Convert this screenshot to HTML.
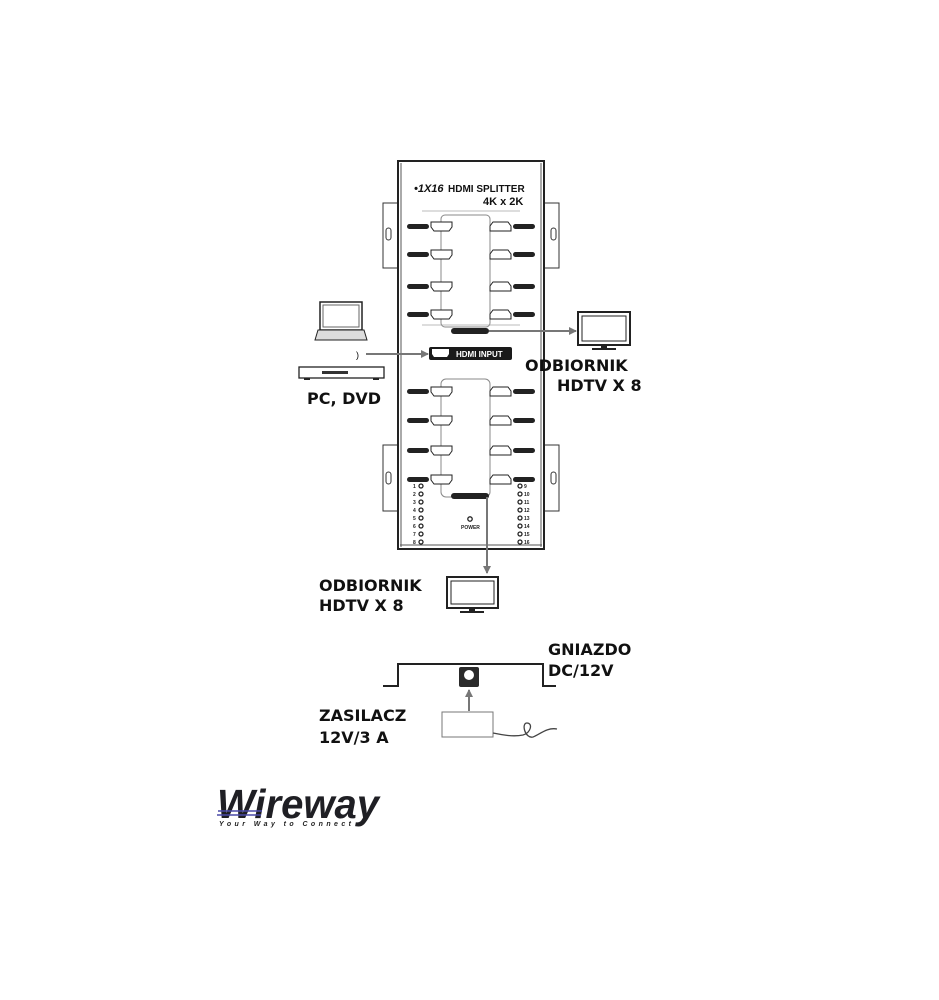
<!DOCTYPE html>
<html><head><meta charset="utf-8"><style>
html,body{margin:0;padding:0;background:#fff}
svg{display:block}
.t{font-family:"DejaVu Sans","Liberation Sans",sans-serif;font-weight:bold;font-size:16px;fill:#111}
.s{font-family:"Liberation Sans",sans-serif;font-weight:bold;fill:#111}
</style></head><body>
<svg width="939" height="1000" viewBox="0 0 939 1000" xmlns="http://www.w3.org/2000/svg">
<defs>
<marker id="ah" markerWidth="8" markerHeight="8" refX="7" refY="4" orient="auto" markerUnits="userSpaceOnUse"><path d="M0,0 L8,4 L0,8 z" fill="#777"/></marker>
<g id="pl"><path d="M0,0 h21 v5 l-3,4 h-15 l-3,-4 z" fill="#fff" stroke="#222" stroke-width="1"/></g>
<g id="pr"><path d="M0,0 h21 v5 l-3,4 h-15 l-3,-4 z" fill="#fff" stroke="#222" stroke-width="1" transform="rotate(180 10.5 4.5)"/></g>
</defs>
<!-- ears -->
<g fill="#fff" stroke="#333" stroke-width="1">
<rect x="383" y="203" width="15" height="65"/><rect x="544" y="203" width="15" height="65"/>
<rect x="383" y="445" width="15" height="66"/><rect x="544" y="445" width="15" height="66"/>
<rect x="386" y="228" width="5" height="12" rx="2.5"/><rect x="551" y="228" width="5" height="12" rx="2.5"/>
<rect x="386" y="472" width="5" height="12" rx="2.5"/><rect x="551" y="472" width="5" height="12" rx="2.5"/>
</g>
<!-- body -->
<rect x="398" y="161" width="146" height="388" fill="#fff" stroke="#222" stroke-width="2"/>
<line x1="401" y1="163" x2="401" y2="547" stroke="#555"/>
<line x1="541" y1="163" x2="541" y2="547" stroke="#555"/>
<line x1="400" y1="545" x2="542" y2="545" stroke="#555"/>
<text x="414" y="192" class="s" font-size="11" font-style="italic">•1X16</text>
<text x="448" y="192" class="s" font-size="10">HDMI SPLITTER</text>
<text x="483" y="205" class="s" font-size="11">4K x 2K</text>
<line x1="422" y1="211" x2="520" y2="211" stroke="#bbb"/>
<line x1="422" y1="325" x2="520" y2="325" stroke="#bbb"/>
<!-- top group -->
<rect x="441" y="215" width="49" height="112" rx="4" fill="none" stroke="#888"/>
<rect x="441" y="379" width="49" height="118" rx="5" fill="none" stroke="#888"/>
<g fill="#222">
<rect x="407" y="224" width="22" height="5" rx="2.5"/><rect x="407" y="252" width="22" height="5" rx="2.5"/>
<rect x="407" y="284" width="22" height="5" rx="2.5"/><rect x="407" y="312" width="22" height="5" rx="2.5"/>
<rect x="513" y="224" width="22" height="5" rx="2.5"/><rect x="513" y="252" width="22" height="5" rx="2.5"/>
<rect x="513" y="284" width="22" height="5" rx="2.5"/><rect x="513" y="312" width="22" height="5" rx="2.5"/>
<rect x="407" y="389" width="22" height="5" rx="2.5"/><rect x="407" y="418" width="22" height="5" rx="2.5"/>
<rect x="407" y="448" width="22" height="5" rx="2.5"/><rect x="407" y="477" width="22" height="5" rx="2.5"/>
<rect x="513" y="389" width="22" height="5" rx="2.5"/><rect x="513" y="418" width="22" height="5" rx="2.5"/>
<rect x="513" y="448" width="22" height="5" rx="2.5"/><rect x="513" y="477" width="22" height="5" rx="2.5"/>
<rect x="451" y="328" width="38" height="6" rx="3"/><rect x="451" y="493" width="38" height="6" rx="3"/>
</g>
<use href="#pl" x="431" y="222"/><use href="#pl" x="431" y="250"/><use href="#pl" x="431" y="282"/><use href="#pl" x="431" y="310"/>
<use href="#pr" x="490" y="222"/><use href="#pr" x="490" y="250"/><use href="#pr" x="490" y="282"/><use href="#pr" x="490" y="310"/>
<use href="#pl" x="431" y="387"/><use href="#pl" x="431" y="416"/><use href="#pl" x="431" y="446"/><use href="#pl" x="431" y="475"/>
<use href="#pr" x="490" y="387"/><use href="#pr" x="490" y="416"/><use href="#pr" x="490" y="446"/><use href="#pr" x="490" y="475"/>
<!-- HDMI input -->
<rect x="429" y="347" width="83" height="13" rx="2" fill="#1a1a1a"/>
<path d="M432,349 h17 v5 l-2,3 h-13 l-2,-3 z" fill="#fff"/>
<text x="456" y="357" font-family="Liberation Sans,sans-serif" font-weight="bold" font-size="8" fill="#fff">HDMI INPUT</text>
<!-- LEDs -->
<g font-family="Liberation Sans,sans-serif" font-size="5" font-weight="bold" fill="#222">
<text x="413" y="488">1</text><text x="413" y="496">2</text><text x="413" y="504">3</text><text x="413" y="512">4</text><text x="413" y="520">5</text><text x="413" y="528">6</text><text x="413" y="536">7</text><text x="413" y="544">8</text>
<text x="524" y="488">9</text><text x="524" y="496">10</text><text x="524" y="504">11</text><text x="524" y="512">12</text><text x="524" y="520">13</text><text x="524" y="528">14</text><text x="524" y="536">15</text><text x="524" y="544">16</text>
<text x="461" y="529">POWER</text>
</g>
<g fill="none" stroke="#222" stroke-width="1.3">
<circle cx="421" cy="486" r="2"/><circle cx="421" cy="494" r="2"/><circle cx="421" cy="502" r="2"/><circle cx="421" cy="510" r="2"/><circle cx="421" cy="518" r="2"/><circle cx="421" cy="526" r="2"/><circle cx="421" cy="534" r="2"/><circle cx="421" cy="542" r="2"/>
<circle cx="520" cy="486" r="2"/><circle cx="520" cy="494" r="2"/><circle cx="520" cy="502" r="2"/><circle cx="520" cy="510" r="2"/><circle cx="520" cy="518" r="2"/><circle cx="520" cy="526" r="2"/><circle cx="520" cy="534" r="2"/><circle cx="520" cy="542" r="2"/>
<circle cx="470" cy="519" r="2.2"/>
</g>
<!-- arrows -->
<line x1="489" y1="331" x2="576" y2="331" stroke="#777" stroke-width="2" marker-end="url(#ah)"/>
<line x1="366" y1="354" x2="428" y2="354" stroke="#777" stroke-width="2" marker-end="url(#ah)"/>
<line x1="487" y1="497" x2="487" y2="573" stroke="#777" stroke-width="2" marker-end="url(#ah)"/>
<!-- laptop -->
<rect x="320" y="302" width="42" height="28" fill="#fff" stroke="#222" stroke-width="1.5"/>
<rect x="323" y="305" width="36" height="22" fill="none" stroke="#666"/>
<path d="M318,330 h46 l3,10 h-52 z" fill="#ddd" stroke="#222"/>
<text x="356" y="358" font-size="9" font-family="Liberation Sans">)</text>
<!-- DVD -->
<rect x="299" y="367" width="85" height="11" fill="#fff" stroke="#222" stroke-width="1.3"/>
<rect x="322" y="371" width="26" height="3" fill="#333"/>
<rect x="304" y="378" width="6" height="2" fill="#222"/><rect x="373" y="378" width="6" height="2" fill="#222"/>
<!-- monitors -->
<g>
<rect x="578" y="312" width="52" height="33" fill="#fff" stroke="#222" stroke-width="2"/>
<rect x="582" y="316" width="44" height="25" fill="none" stroke="#222"/>
<rect x="601" y="345" width="6" height="4" fill="#222"/><rect x="592" y="348" width="24" height="2" fill="#222"/>
<rect x="447" y="577" width="51" height="31" fill="#fff" stroke="#222" stroke-width="2"/>
<rect x="451" y="581" width="43" height="23" fill="none" stroke="#222"/>
<rect x="469" y="608" width="6" height="4" fill="#222"/><rect x="460" y="611" width="24" height="2" fill="#222"/>
</g>
<!-- labels -->
<text x="307" y="404" class="t" font-size="17">PC, DVD</text>
<text x="525" y="371" class="t">ODBIORNIK</text>
<text x="557" y="391" class="t">HDTV X 8</text>
<text x="319" y="591" class="t">ODBIORNIK</text>
<text x="319" y="611" class="t">HDTV X 8</text>
<text x="548" y="655" class="t">GNIAZDO</text>
<text x="548" y="676" class="t">DC/12V</text>
<text x="319" y="721" class="t">ZASILACZ</text>
<text x="319" y="743" class="t">12V/3 A</text>
<!-- rear panel -->
<polyline points="383,686 398,686 398,664 543,664 543,686 556,686" fill="none" stroke="#222" stroke-width="2"/>
<rect x="459" y="667" width="20" height="20" rx="2" fill="#2a2a2a"/>
<circle cx="469" cy="675" r="5" fill="#fff"/>
<line x1="469" y1="711" x2="469" y2="690" stroke="#777" stroke-width="2" marker-end="url(#ah)"/>
<rect x="442" y="712" width="51" height="25" fill="#fff" stroke="#777"/>
<path d="M493,733 c10,2 20,4 30,2 c8,-2 10,-12 4,-12 c-6,0 -2,16 6,14 c6,-2 14,-10 24,-8" fill="none" stroke="#444" stroke-width="1.3"/>
<!-- logo -->
<text x="217" y="818" font-family="Liberation Sans,sans-serif" font-weight="bold" font-style="italic" font-size="41" fill="#1f1f24" textLength="162" lengthAdjust="spacingAndGlyphs">Wireway</text>
<g stroke="#4a4aa8" stroke-width="1.5"><line x1="218" y1="811" x2="262" y2="811"/><line x1="217" y1="815" x2="261" y2="815"/></g>
<text x="219" y="826" font-family="Liberation Sans,sans-serif" font-style="italic" font-weight="bold" font-size="7" fill="#222" textLength="132" lengthAdjust="spacing">Your Way to Connect</text>
</svg>
</body></html>
